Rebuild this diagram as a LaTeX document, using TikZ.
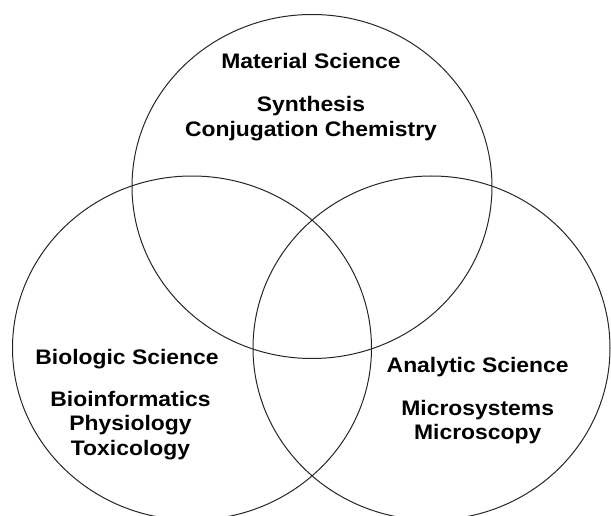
\documentclass[tikz,border=0pt]{standalone}
\usepackage{fontspec}
\setmainfont{Liberation Sans}
\begin{document}
\begin{tikzpicture}[x=1pt,y=-1pt,
  venn/.style={draw=black!85, line width=1pt},
  lbl/.style={inner sep=0pt, anchor=base, font=\bfseries\fontsize{21}{24}\selectfont, xscale=1.09, transform shape}]
\useasboundingbox (0,0) rectangle (611,516);
\clip (0,0) rectangle (611,516);
\draw[venn] (312,186.5) ellipse [x radius=180pt, y radius=172pt];
\draw[venn] (192,348) ellipse [x radius=179.5pt, y radius=172pt];
\draw[venn] (431.5,348) ellipse [x radius=178.5pt, y radius=172pt];
% top
\node[lbl] (mat) at (311,68.3) {Material Science};
\node[lbl] (syn) at (311,111.5) {Synthesis};
\node[lbl] (con) at (311,136.2) {Conjugation Chemistry};
% left
\node[lbl] (bio) at (127,364) {Biologic Science};
\node[lbl] (binf) at (130.5,406.7) {Bioinformatics};
\node[lbl] (phy) at (130.5,430.7) {Physiology};
\node[lbl] (tox) at (130.5,455) {Toxicology};
% right
\node[lbl] (ana) at (477.7,372.7) {Analytic Science};
\node[lbl] (msys) at (477.7,415) {Microsystems};
\node[lbl] (mscp) at (477.7,439.3) {Microscopy};
\end{tikzpicture}
\end{document}
